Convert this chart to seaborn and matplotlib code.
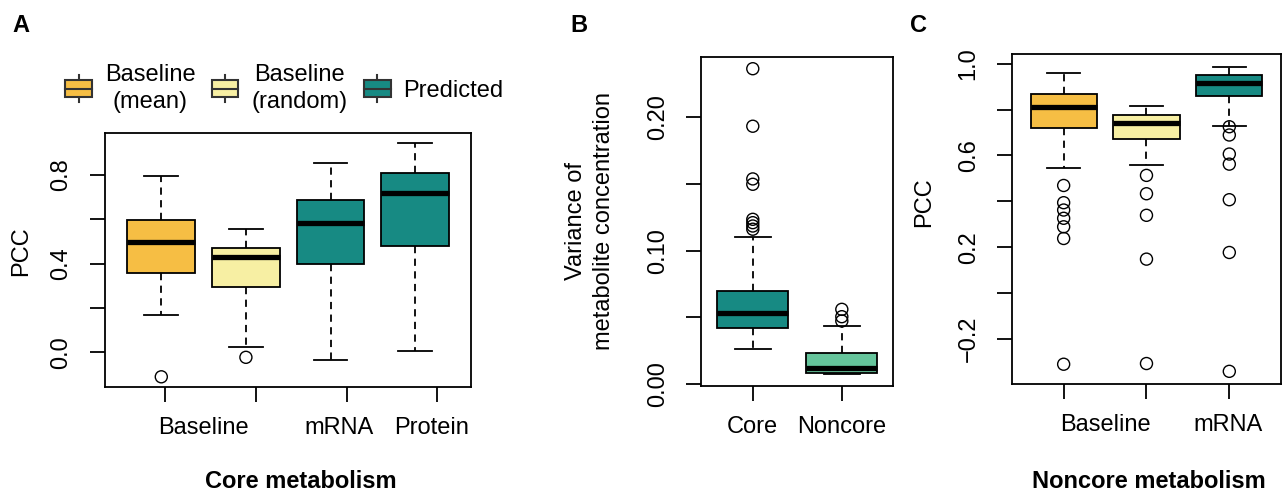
"""
Three boxplot panels: PCC for core metabolism (A), variance of metabolite
concentration (B) and PCC for noncore metabolism (C).
"""

import pandas as pd
import matplotlib
matplotlib.use("Agg")
import matplotlib.pyplot as plt
import seaborn as sns
from matplotlib.legend_handler import HandlerBase
from matplotlib.patches import Rectangle, Patch
from matplotlib.lines import Line2D

ORANGE = "#F6BE44"
YELLOW = "#F7EFA3"
TEAL = "#178A83"
GREEN = "#66C59C"

# box summaries: whisker low, Q1, median, Q3, whisker high
a_groups = ["Baseline (mean)", "Baseline (random)", "mRNA", "Protein"]
a_stats = [
    [0.168, 0.356, 0.498, 0.597, 0.797],
    [0.025, 0.293, 0.429, 0.469, 0.556],
    [-0.035, 0.397, 0.582, 0.686, 0.854],
    [0.007, 0.481, 0.719, 0.809, 0.946],
]
a_outliers = [[-0.111], [-0.023], [], []]
a_colors = [ORANGE, YELLOW, TEAL, TEAL]
a_ticks = [0.044, 1.116, 2.195, 3.26]
a_labels = ["Baseline", "mRNA", "Protein"]
a_label_pos = [0.50, 2.10, 3.20]

b_groups = ["Core", "Noncore"]
b_stats = [
    [0.0262, 0.0419, 0.0536, 0.0696, 0.1102],
    [0.0079, 0.0087, 0.0124, 0.0236, 0.0436],
]
b_outliers = [
    [0.236, 0.193, 0.1536, 0.1496, 0.1234, 0.1209, 0.1184, 0.1160],
    [0.0561, 0.0506, 0.0474],
]
b_colors = [TEAL, GREEN]

c_groups = ["Baseline (mean)", "Baseline (random)", "mRNA"]
c_stats = [
    [0.546, 0.721, 0.811, 0.867, 0.960],
    [0.559, 0.673, 0.740, 0.776, 0.815],
    [0.729, 0.859, 0.915, 0.949, 0.985],
]
c_outliers = [
    [0.469, 0.394, 0.362, 0.326, 0.289, 0.238, -0.310],
    [0.513, 0.433, 0.339, 0.148, -0.307],
    [0.725, 0.689, 0.606, 0.562, 0.407, 0.177, -0.341],
]
c_colors = [ORANGE, YELLOW, TEAL]
c_labels = ["Baseline", "mRNA"]
c_label_pos = [0.51, 1.99]

legend_labels = ["Baseline\n(mean)", "Baseline\n(random)", "Predicted"]
legend_colors = [ORANGE, YELLOW, TEAL]

FS = 17
TICK_LEN = 10.5
LW = 1.3

plt.rcParams["font.family"] = ["Liberation Sans", "DejaVu Sans"]
plt.rcParams["axes.linewidth"] = LW


def box_frame(groups, stats, reps=20):
    # repeat the quartiles so the library's own quantiles land on them
    rows = []
    for g, (lo, q1, med, q3, hi) in zip(groups, stats):
        vals = [lo] + [q1] * reps + [med] * reps + [q3] * reps + [hi]
        rows += [(g, v) for v in vals]
    return pd.DataFrame(rows, columns=["group", "value"])


def draw_boxes(ax, groups, stats, outliers, colors):
    df = box_frame(groups, stats)
    sns.boxplot(data=df, x="group", y="value", hue="group", order=groups,
                hue_order=groups, palette=colors, saturation=1, width=0.8,
                whis=(0, 100), showfliers=False, linecolor="black",
                linewidth=LW, legend=False, ax=ax,
                medianprops=dict(linewidth=3.8, color="black"),
                whiskerprops=dict(linestyle=(0, (4, 3))),
                capwidths=0.4)
    for i, pts in enumerate(outliers):
        if pts:
            sns.scatterplot(x=[i] * len(pts), y=pts, marker="o", s=75,
                            facecolor="none", edgecolor="black",
                            linewidth=1.0, ax=ax, zorder=3, legend=False)


def style_axes(ax, xlim, ylim, yticks, ylabels):
    ax.set_xlim(xlim)
    ax.set_ylim(ylim)
    for s in ax.spines.values():
        s.set_visible(True)
        s.set_linewidth(LW)
    ax.set_yticks(yticks, ylabels)
    ax.tick_params(axis="y", labelrotation=90, length=TICK_LEN, width=LW,
                   pad=13, labelsize=FS)
    for t in ax.get_yticklabels():
        t.set_va("center")
    ax.tick_params(axis="x", which="major", length=TICK_LEN, width=LW,
                   pad=11, labelsize=FS)
    ax.tick_params(axis="x", which="minor", length=0, pad=11 + TICK_LEN,
                   labelsize=FS)
    ax.set_xlabel("")
    ax.set_ylabel("")


class BoxGlyph(HandlerBase):
    def create_artists(self, legend, orig_handle, xdescent, ydescent,
                       width, height, fontsize, trans):
        x0, y0 = -xdescent, -ydescent
        cx = x0 + width / 2
        edge = "#333333"
        whisk = Line2D([cx, cx], [y0 - 0.15 * height, y0 + 1.15 * height],
                       color=edge, lw=1.5, transform=trans)
        box = Rectangle((x0, y0 + 0.1 * height), width, 0.8 * height,
                        facecolor=orig_handle.get_facecolor(),
                        edgecolor=edge, lw=1.5, transform=trans)
        med = Line2D([x0, x0 + width], [y0 + height / 2] * 2, color=edge,
                     lw=1.5, transform=trans)
        return [whisk, box, med]


fig = plt.figure(figsize=(12.84, 4.95), dpi=100)
ax_a = fig.add_axes([0.0818, 0.2182, 0.2850, 0.5131])
ax_b = fig.add_axes([0.5462, 0.2208, 0.1495, 0.6647])
ax_c = fig.add_axes([0.7884, 0.2248, 0.2090, 0.6661])

# Panel A
draw_boxes(ax_a, a_groups, a_stats, a_outliers, a_colors)
style_axes(ax_a, (-0.665, 3.66), (-0.157, 0.990),
           [0.0, 0.2, 0.4, 0.6, 0.8], ["0.0", "", "0.4", "", "0.8"])
ax_a.set_xticks(a_ticks, [""] * len(a_ticks))
ax_a.set_xticks(a_label_pos, a_labels, minor=True)
ax_a.set_ylabel("PCC", fontsize=FS)
ax_a.yaxis.set_label_coords(-0.230, 0.535)
ax_a.yaxis.label.set_va("center")
ax_a.set_xlabel("Core metabolism", fontsize=FS, fontweight="bold")
ax_a.xaxis.set_label_coords(0.536, -0.373)
ax_a.xaxis.label.set_va("center")

leg = ax_a.legend(handles=[Patch(facecolor=c) for c in legend_colors],
                  labels=legend_labels, handler_map={Patch: BoxGlyph()},
                  ncol=3, frameon=False, loc="center",
                  bbox_to_anchor=(0.2216, 0.822), bbox_transform=fig.transFigure,
                  handlelength=1.12, handleheight=1.0, handletextpad=0.55,
                  columnspacing=0.7, fontsize=FS)
for t in leg.get_texts():
    t.set_multialignment("center")
    t.set_linespacing(1.3)

# Panel B
draw_boxes(ax_b, b_groups, b_stats, b_outliers, b_colors)
style_axes(ax_b, (-0.578, 1.578), (-0.001, 0.245),
           [0.0, 0.05, 0.10, 0.15, 0.20], ["0.00", "", "0.10", "", "0.20"])
ax_b.set_xticks([0, 1], b_groups)
ax_b.set_ylabel("Variance of\nmetabolite concentration", fontsize=FS,
                linespacing=1.3)
ax_b.yaxis.set_label_coords(-0.58, 0.5)
ax_b.yaxis.label.set_va("center")

# Panel C
draw_boxes(ax_c, c_groups, c_stats, c_outliers, c_colors)
style_axes(ax_c, (-0.62, 2.62), (-0.395, 1.042),
           [-0.2, 0.0, 0.2, 0.4, 0.6, 0.8, 1.0],
           ["\u22120.2", "", "0.2", "", "0.6", "", "1.0"])
ax_c.set_xticks([0, 1, 2], [""] * 3)
ax_c.set_xticks(c_label_pos, c_labels, minor=True)
ax_c.set_ylabel("PCC", fontsize=FS)
ax_c.yaxis.set_label_coords(-0.329, 0.552)
ax_c.yaxis.label.set_va("center")
ax_c.set_xlabel("Noncore metabolism", fontsize=FS, fontweight="bold")
ax_c.xaxis.set_label_coords(0.508, -0.297)
ax_c.xaxis.label.set_va("center")

# panel letters
for x, letter in [(0.010, "A"), (0.444, "B"), (0.709, "C")]:
    fig.text(x, 0.949, letter, fontsize=17, fontweight="bold", va="center")

fig.savefig("out.png", dpi=100)
